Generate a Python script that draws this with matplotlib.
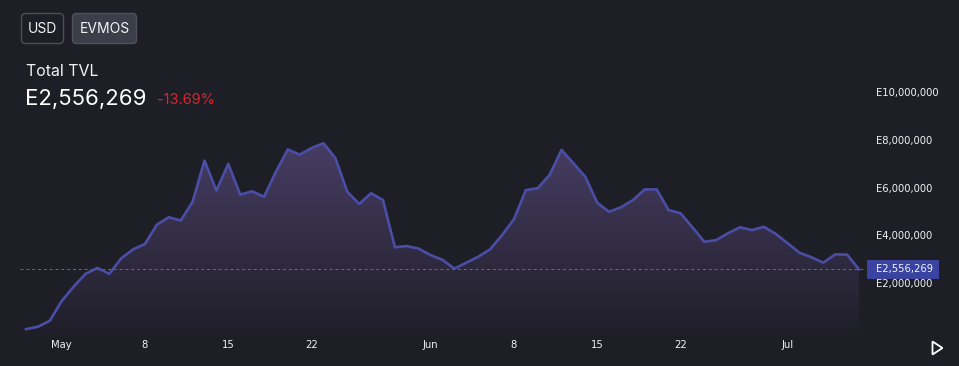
import numpy as np
import pandas as pd
import matplotlib
matplotlib.use('Agg')
import matplotlib.pyplot as plt
import matplotlib.dates as mdates
from matplotlib.patches import FancyBboxPatch, Rectangle, Polygon
from matplotlib.transforms import blended_transform_factory
from matplotlib.ticker import FuncFormatter, FixedLocator

# data (TVL in millions of EVMOS, one point per day)
start_date = '2023-04-28'
tvl_m = [0.05, 0.15, 0.40, 1.23, 1.83, 2.37, 2.62, 2.37, 3.02, 3.40,
         3.63, 4.44, 4.75, 4.61, 5.40, 7.13, 5.87, 6.99, 5.70, 5.84,
         5.61, 6.66, 7.60, 7.38, 7.66, 7.86, 7.23, 5.82, 5.31, 5.76,
         5.47, 3.49, 3.54, 3.43, 3.16, 2.96, 2.59, 2.84, 3.09, 3.40,
         4.00, 4.66, 5.89, 5.97, 6.53, 7.58, 7.02, 6.45, 5.36, 4.98,
         5.17, 5.47, 5.92, 5.92, 5.05, 4.92, 4.33, 3.72, 3.79, 4.08,
         4.33, 4.21, 4.35, 4.05, 3.66, 3.26, 3.07, 2.84, 3.19, 3.18,
         2.556269]
tick_dates = ['2023-05-01', '2023-05-08', '2023-05-15', '2023-05-22', '2023-06-01',
              '2023-06-08', '2023-06-15', '2023-06-22', '2023-07-01']
tick_labels = ['May', '8', '15', '22', 'Jun', '8', '15', '22', 'Jul']
y_ticks = [2e6, 4e6, 6e6, 8e6, 10e6]
current_value = 2556269
change_pct = '-13.69%'

dates = pd.date_range(start_date, periods=len(tvl_m), freq='D')
tvl = np.array(tvl_m) * 1e6
x = mdates.date2num(dates)

bg = '#1e1e27'
line_c = '#4a4ea6'
txt_c = '#f2f2f5'

W, H = 959, 366
fig = plt.figure(figsize=(W / 100, H / 100), dpi=100, facecolor=bg)

# overlay for header widgets (pixel coords)
ov = fig.add_axes([0, 0, 1, 1])
ov.set_xlim(0, W)
ov.set_ylim(H, 0)
ov.axis('off')
ov.add_patch(FancyBboxPatch((21.5, 13.5), 42, 30, boxstyle='round,pad=0,rounding_size=4',
                            fc=bg, ec='#4c4d58', lw=1))
ov.add_patch(FancyBboxPatch((72.5, 13.5), 64, 30, boxstyle='round,pad=0,rounding_size=4',
                            fc='#3c3e4a', ec='#4f515d', lw=1))
ov.text(42.5, 29, 'USD', color=txt_c, fontsize=10, ha='center', va='center', family='Inter')
ov.text(104.5, 29, 'EVMOS', color=txt_c, fontsize=10, ha='center', va='center', family='Inter')
ov.text(26, 76, 'Total TVL', color=txt_c, fontsize=11.5, ha='left', va='baseline', family='Inter')
ov.text(25, 105, 'E{:,}'.format(current_value), color='white', fontsize=16, ha='left',
        va='baseline', family='Inter')
ov.text(157, 104.5, change_pct, color='#e0232a', fontsize=10.5, ha='left', va='baseline',
        family='Inter')
ov.add_patch(Polygon([[932.5, 341.5], [932.5, 354.5], [942.5, 348]], closed=True,
                     fc='none', ec='white', lw=1.3))

# chart axes
left_px, right_px, top_px, bot_px = 20, 866, 75, 332
ax = fig.add_axes([left_px / W, 1 - bot_px / H, (right_px - left_px) / W, (bot_px - top_px) / H])
ax.set_facecolor('none')

px_per_day = 11.9
x_may1 = mdates.date2num(pd.Timestamp('2023-05-01'))
ax.set_xlim(x_may1 + (left_px - 61.7) / px_per_day, x_may1 + (right_px - 61.7) / px_per_day)
px_per_m = 23.8
ax.set_ylim((330.3 - bot_px) / px_per_m * 1e6, (330.3 - top_px) / px_per_m * 1e6)

# gradient fill under the line
ymin, ymax = ax.get_ylim()
n = 256
top_rgb = np.array(matplotlib.colors.to_rgb('#4a3f68'))
bot_rgb = np.array(matplotlib.colors.to_rgb('#201f29'))
t = np.linspace(0, 1, n)[:, None]
grad = (top_rgb * (1 - t) + bot_rgb * t)[:, None, :]
poly = ax.fill_between(x, tvl, ymin, facecolor='none', edgecolor='none')
im = ax.imshow(grad, extent=[x[0], x[-1], ymin, 8.5e6], aspect='auto', origin='upper',
               zorder=1)
im.set_clip_path(poly.get_paths()[0], transform=ax.transData)

ax.plot(x, tvl, color=line_c, lw=1.9, zorder=3, solid_joinstyle='round')
ax.axhline(current_value, color='#6c63b0', lw=0.7, ls=(0, (3, 3)), zorder=2, clip_on=False)

# spines / ticks
for s in ax.spines.values():
    s.set_visible(False)
ax.xaxis.set_major_locator(FixedLocator(mdates.date2num(pd.to_datetime(tick_dates))))
ax.set_xticklabels(tick_labels)
ax.yaxis.tick_right()
ax.yaxis.set_major_locator(FixedLocator(y_ticks))
ax.yaxis.set_major_formatter(FuncFormatter(lambda v, p: 'E{:,.0f}'.format(v)))
ax.tick_params(axis='x', length=0, pad=6, labelsize=7.2, labelcolor=txt_c)
ax.tick_params(axis='y', length=0, pad=7.5, labelsize=7.2, labelcolor=txt_c)

# current value tag
tr = blended_transform_factory(ax.transAxes, ax.transData)
box_h = 19 / px_per_m * 1e6
ax.add_patch(Rectangle((1.0012, current_value - box_h / 2), 0.0851, box_h, transform=tr,
                       fc='#3a44a0', ec='none', clip_on=False, zorder=5))
ax.text(1.0 + 10 / (right_px - left_px), current_value, 'E{:,}'.format(current_value),
        transform=tr, color=txt_c, fontsize=7.2, ha='left', va='center', zorder=6)

fig.savefig('out.png', dpi=100, facecolor=bg)
